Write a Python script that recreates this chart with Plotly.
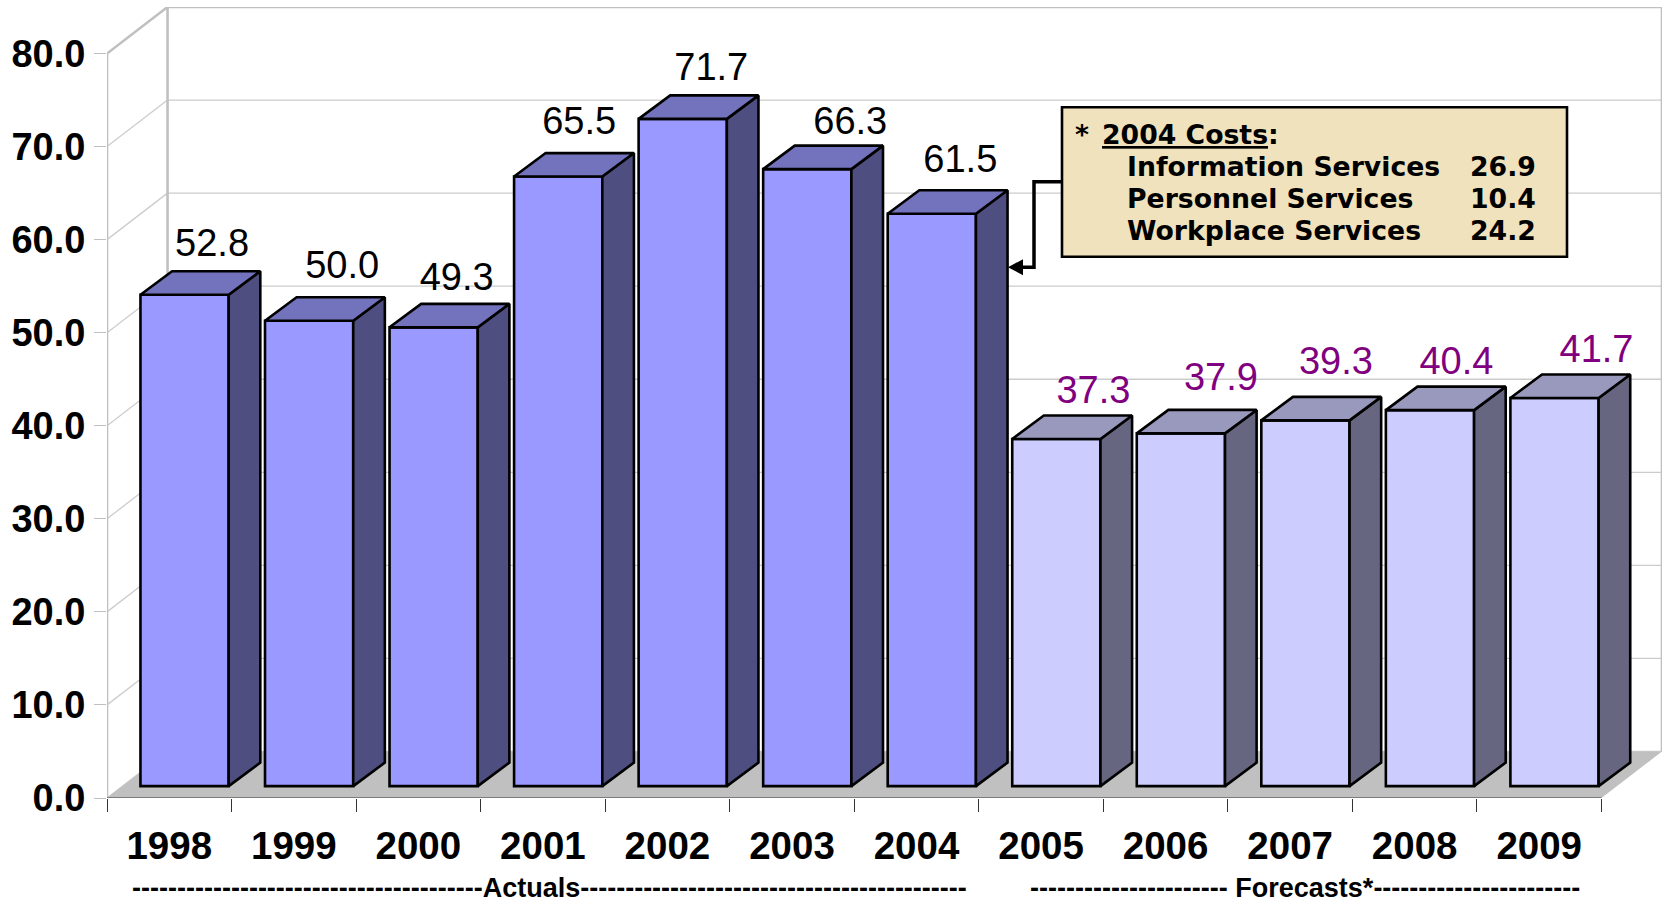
import plotly.graph_objects as go

# ---- data ----
years = ["1998", "1999", "2000", "2001", "2002", "2003", "2004",
         "2005", "2006", "2007", "2008", "2009"]
actuals = [52.8, 50.0, 49.3, 65.5, 71.7, 66.3, 61.5]
forecasts = [37.3, 37.9, 39.3, 40.4, 41.7]
y_ticks = [0, 10, 20, 30, 40, 50, 60, 70, 80]
cost_names = ["Information Services", "Personnel Services", "Workplace Services"]
cost_values = ["26.9", "10.4", "24.2"]
actual_caption = "-" * 39 + "Actuals" + "-" * 43
forecast_caption = "-" * 22 + " Forecasts*" + "-" * 23

# ---- geometry / style ----
W, H = 1669, 904
L, R, T, B = 107, 7, 6.6, 105.7
PX_X = 124.5      # px per category
PX_Y = 9.31       # px per value unit
WALL_X, WALL_Y = 60.5 / PX_X, 5.0
FRONT_X, FRONT_Y = 15.3 / PX_X, 11.9 / PX_Y
SIDE_X, SIDE_Y = 31.6 / PX_X, 23.5 / PX_Y
BAR_W = 88.2 / PX_X
EDGE = 2.6
FONT = "Liberation Sans"
GRID = "#cccccc"
WALL = "#c0c0c0"
# hand-placed data labels: offset of the label centre from bar centre / bar top, px
label_dx = [27.5, 33, 23, 21, 28.5, 43, 28.5, 37, 40, 30.5, 26.5, 42]
label_dy = [48, 52, 47, 52.5, 48, 45, 51, 45.5, 52.5, 55.5, 45.5, 46]

values = actuals + forecasts
n = len(values)
xmax = n + WALL_X
ymax = y_ticks[-1] + WALL_Y


def px(x):
    return (x - L) / (W - L - R)


def py(y):
    return 1 - (y - T) / (H - T - B)


fig = go.Figure()

# front faces
groups = [
    ("Actuals", 0, actuals, "#9999ff", "#4e4e80", "#7373bd", "#000000"),
    ("Forecasts", len(actuals), forecasts, "#ccccff", "#666680", "#9999bd", "#800080"),
]
for name, start, vals, front, side, top, text in groups:
    centres = [start + k + 0.5 + FRONT_X for k in range(len(vals))]
    fig.add_trace(go.Bar(
        name=name, x=centres, y=vals, base=FRONT_Y, width=BAR_W,
        marker=dict(color=front, line=dict(color="black", width=EDGE)),
        hoverinfo="skip", showlegend=False))
    sx, sy, tx, ty = [], [], [], []
    for c, v in zip(centres, vals):
        r = c + BAR_W / 2
        l = c - BAR_W / 2
        t = v + FRONT_Y
        sx += [r, r + SIDE_X, r + SIDE_X, r, r, None]
        sy += [FRONT_Y, FRONT_Y + SIDE_Y, t + SIDE_Y, t, FRONT_Y, None]
        tx += [l, l + SIDE_X, r + SIDE_X, r, l, None]
        ty += [t, t + SIDE_Y, t + SIDE_Y, t, t, None]
    for xs, ys, col in ((sx, sy, side), (tx, ty, top)):
        fig.add_trace(go.Scatter(
            x=xs, y=ys, mode="lines", fill="toself", fillcolor=col,
            line=dict(color="black", width=EDGE), hoverinfo="skip", showlegend=False))
    fig.add_trace(go.Scatter(
        x=[c + label_dx[start + k] / PX_X for k, c in enumerate(centres)],
        y=[v + FRONT_Y + label_dy[start + k] / PX_Y for k, v in enumerate(vals)],
        mode="text", text=[f"{v:.1f}" for v in vals], textposition="middle center",
        textfont=dict(family=FONT, size=38, color=text),
        hoverinfo="skip", showlegend=False, cliponaxis=False))

shapes = []


def line(x0, y0, x1, y1, color=GRID, width=1.3):
    shapes.append(dict(type="line", xref="x", yref="y", layer="below",
                       x0=x0, y0=y0, x1=x1, y1=y1,
                       line=dict(color=color, width=width)))


# gridlines on the side wall and back wall
for v in y_ticks[:-1]:
    line(0, v, WALL_X, v + WALL_Y)
    line(WALL_X, v + WALL_Y, xmax, v + WALL_Y)
# wall outlines
line(0, 0, 0, y_ticks[-1], WALL, 2.6)
line(0, y_ticks[-1], WALL_X, ymax, WALL, 2.6)
line(WALL_X, WALL_Y, WALL_X, ymax, WALL, 2.6)
line(WALL_X, ymax, xmax, ymax, WALL, 2.6)
line(xmax, WALL_Y, xmax, ymax, WALL, 2.6)
# floor
shapes.append(dict(type="path", xref="x", yref="y", layer="below",
                   path=f"M0,0 L{n},0 L{xmax},{WALL_Y} L{WALL_X},{WALL_Y} Z",
                   fillcolor="#c0c0c0", line=dict(width=0)))
line(0, 0, n, 0, "#666666", 1.5)

# callout box and elbow arrow
shapes.append(dict(type="rect", xref="paper", yref="paper",
                   x0=px(1062), x1=px(1567), y0=py(107), y1=py(256.5),
                   fillcolor="#efe2bd", line=dict(color="black", width=2.6)))
shapes.append(dict(type="path", xref="paper", yref="paper",
                   path=f"M{px(1062)},{py(181.5)} L{px(1034)},{py(181.5)} "
                        f"L{px(1034)},{py(267)} L{px(1016)},{py(267)}",
                   line=dict(color="black", width=3.5)))
shapes.append(dict(type="path", xref="paper", yref="paper",
                   path=f"M{px(1008)},{py(267)} L{px(1023)},{py(259)} L{px(1023)},{py(275)} Z",
                   fillcolor="black", line=dict(color="black", width=0)))

ann = []


def text(x, y, s, family, size, anchor="left", color="black"):
    ann.append(dict(xref="paper", yref="paper", x=px(x), y=py(y), text=s,
                    showarrow=False, xanchor=anchor, yanchor="middle",
                    xshift=0, yshift=0,
                    font=dict(family=family, size=size, color=color)))


BOX_FONT = "DejaVu Sans"
text(1073, 134, "<b>*</b>", BOX_FONT, 26.7)
text(1100, 134, "<b><u>2004 Costs</u>:</b>", BOX_FONT, 26.7)
for k, (a, b) in enumerate(zip(cost_names, cost_values)):
    text(1125, 166 + 32 * k, f"<b>{a}</b>", BOX_FONT, 26.7)
    text(1538, 166 + 32 * k, f"<b>{b}</b>", BOX_FONT, 26.7, anchor="right")
text(130, 888, f"<b>{actual_caption}</b>", FONT, 27)
text(1028, 888, f"<b>{forecast_caption}</b>", FONT, 27)

fig.update_layout(
    width=W, height=H, margin=dict(l=L, r=R, t=T, b=B),
    paper_bgcolor="white", plot_bgcolor="white",
    barmode="overlay", showlegend=False, shapes=shapes, annotations=ann,
    xaxis=dict(range=[0, xmax], showgrid=False, zeroline=False, showline=False,
               tickmode="array", tickvals=[k + 0.5 for k in range(n)], ticktext=years,
               ticks="", ticklabelstandoff=21,
               tickfont=dict(family=FONT, size=38.5, color="black", weight="bold"),
               minor=dict(tickmode="array", tickvals=list(range(n + 1)), ticks="outside",
                          ticklen=13, tickcolor="#333333", tickwidth=1.3, showgrid=False)),
    yaxis=dict(range=[0, ymax], showgrid=False, zeroline=False, showline=False,
               tickmode="array", tickvals=y_ticks, ticktext=[f"{v:.1f}" for v in y_ticks],
               ticks="outside", ticklen=12, tickcolor=WALL, tickwidth=1.3,
               ticklabelstandoff=1,
               tickfont=dict(family=FONT, size=38, color="black", weight="bold")),
)

fig.write_html("out.html", config={"displayModeBar": False},
               post_script="document.body.style.margin='0';document.documentElement.style.overflow='hidden';")
